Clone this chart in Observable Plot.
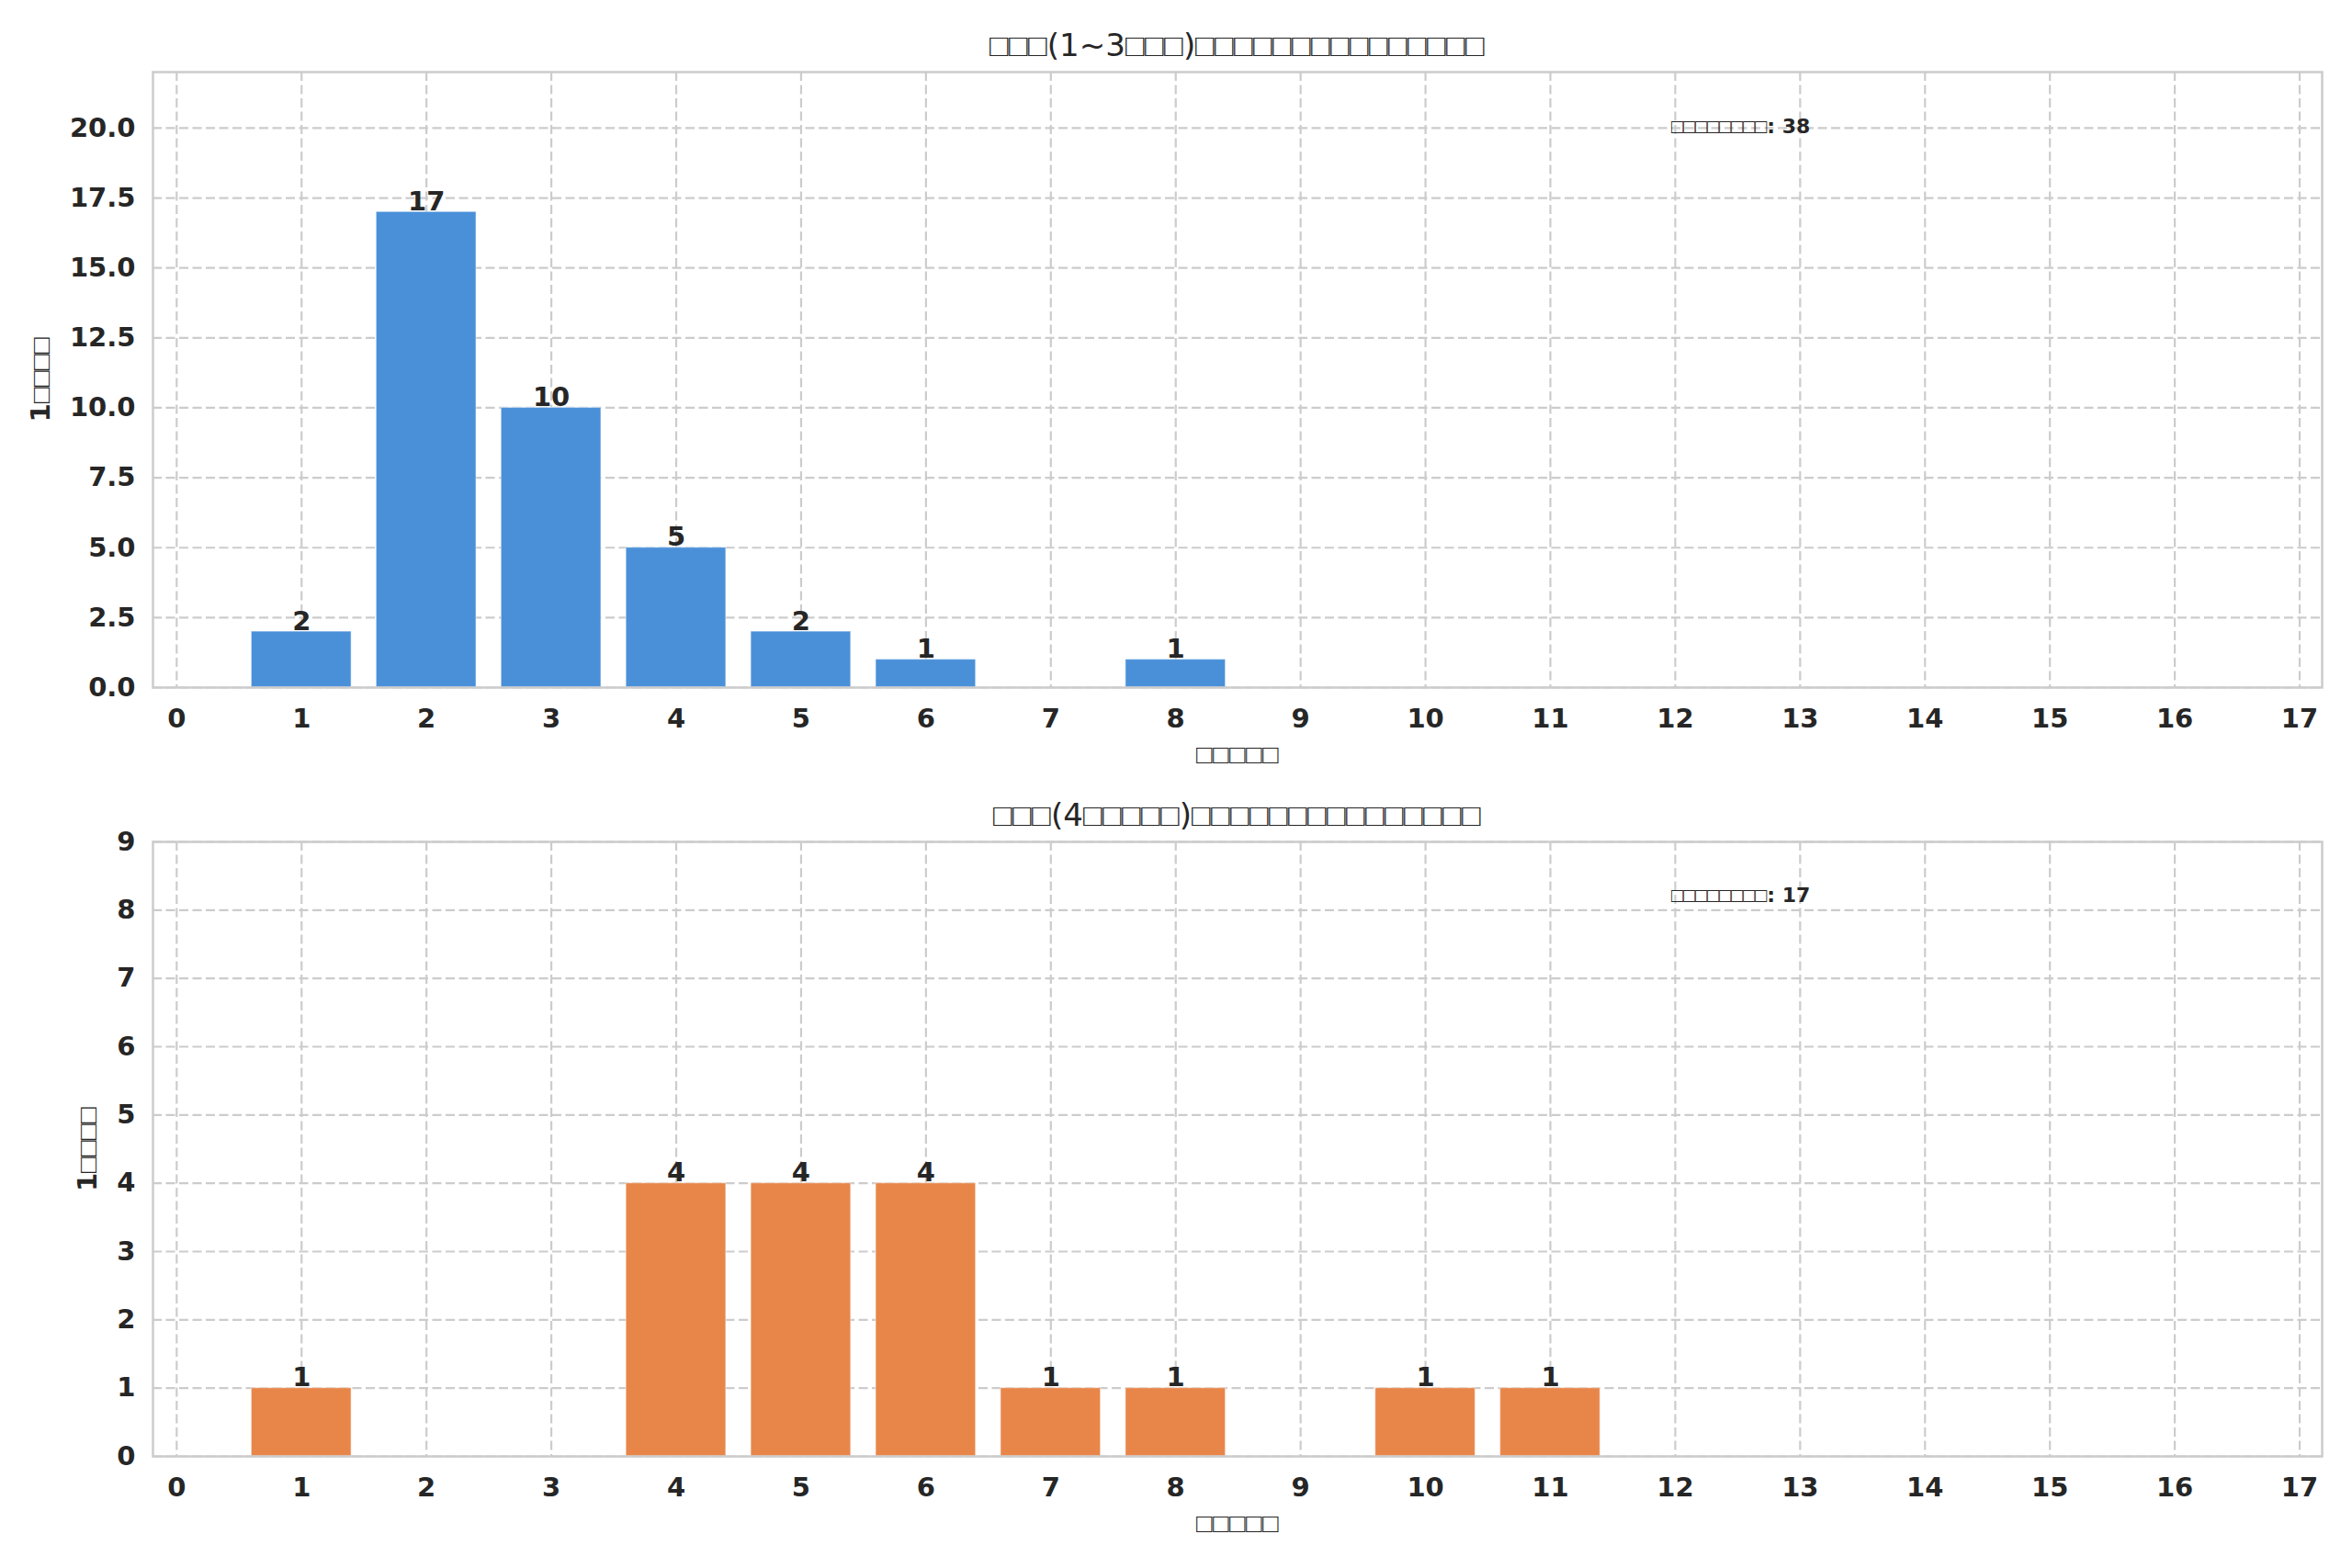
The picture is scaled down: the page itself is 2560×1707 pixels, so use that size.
<!DOCTYPE html>
<html>
<head>
<meta charset="utf-8">
<script src="https://cdn.jsdelivr.net/npm/d3@7"></script>
<script src="https://cdn.jsdelivr.net/npm/@observablehq/plot@0.6"></script>
<style>
  @font-face { font-family: "TofuBox"; src: local("Liberation Sans"), local("LiberationSans"); unicode-range: U+25A1; font-weight: 400; }
  @font-face { font-family: "TofuBox"; src: local("Liberation Sans Bold"), local("LiberationSans-Bold"); unicode-range: U+25A1; font-weight: 700; }
  html, body { margin: 0; padding: 0; background: #ffffff; }
  #page { position: relative; width: 2560px; height: 1707px; background: #ffffff; overflow: hidden; }
  .title { position: absolute; font-family: "TofuBox", "DejaVu Sans", sans-serif; font-size: 34px; line-height: 40px;
           color: #262626; text-align: center; white-space: nowrap; }
  .panel { position: absolute; left: 0; }
</style>
</head>
<body>
<div id="page"></div>
<script>
// ---- data ----
const topValues = [1, 2, 3, 4, 5, 6, 8];
const topCounts = [2, 17, 10, 5, 2, 1, 1];
const bottomValues = [1, 4, 5, 6, 7, 8, 10, 11];
const bottomCounts = [1, 4, 4, 4, 1, 1, 1, 1];
const xTicks = [0, 1, 2, 3, 4, 5, 6, 7, 8, 9, 10, 11, 12, 13, 14, 15, 16, 17];
const topYTicks = [0, 2.5, 5, 7.5, 10, 12.5, 15, 17.5, 20];
const bottomYTicks = [0, 1, 2, 3, 4, 5, 6, 7, 8, 9];
const topTitle = "□□□(1~3□□□)□□□□□□□□□□□□□□□";
const bottomTitle = "□□□(4□□□□□)□□□□□□□□□□□□□□□";
const xLabel = "□□□□□";
const yLabel = "1□□□□";
const totalLabel = "□□□□□□□□";

// ---- layout ----
const W = 2560, mL = 166, mR = 33, mB = 100;
const plotW = W - mL - mR;
const FONT = '"TofuBox", "DejaVu Sans", sans-serif';

function panel({values, counts, color, yMax, yTicks, yFormat, yLabelOffset, height, mT, top, title, titleTop}) {
  const data = values.map((v, i) => ({value: v, count: counts[i]}));
  const plotH = height - mT - mB;
  const grid = {stroke: "#cccccc", strokeOpacity: 1, strokeWidth: 2.2, strokeDasharray: "10,4.5"};
  const chart = Plot.plot({
    width: W,
    height,
    marginLeft: mL, marginRight: mR, marginTop: mT, marginBottom: mB,
    style: {fontFamily: FONT, fontSize: "29px", color: "#262626", background: "transparent"},
    x: {domain: [-0.19, 17.18]},
    y: {domain: [0, yMax]},
    marks: [
      Plot.gridX(xTicks, grid),
      Plot.gridY(yTicks, grid),
      Plot.rectY(data, {
        x1: d => d.value - 0.4, x2: d => d.value + 0.4, y1: 0, y2: "count",
        fill: color, stroke: "#ffffff", strokeOpacity: 0.45, strokeWidth: 1.2
      }),
      Plot.text(data, {
        x: "value", y: "count", text: d => String(d.count),
        lineAnchor: "bottom", dy: -2, fontSize: 29, fontWeight: "bold", fill: "#262626"
      }),
      Plot.text([`${totalLabel}: ${d3.sum(counts)}`], {
        frameAnchor: "top-left", dx: 0.7 * plotW, dy: 0.088 * plotH,
        textAnchor: "start", lineAnchor: "middle",
        fontSize: 22, fontWeight: "bold", fill: "#262626"
      }),
      Plot.axisX(xTicks, {
        tickSize: 0, tickPadding: 23, fontWeight: "bold", fontSize: 29, tickFormat: d3.format("d"),
        label: xLabel, labelAnchor: "center", labelArrow: "none", labelOffset: 82
      }),
      Plot.axisY(yTicks, {
        tickSize: 0, tickPadding: 19, fontWeight: "bold", fontSize: 29, tickFormat: yFormat,
        label: yLabel, labelAnchor: "center", labelArrow: "none", labelOffset: yLabelOffset
      }),
      Plot.frame({stroke: "#cccccc", strokeWidth: 2.5})
    ]
  });
  chart.classList.add("panel");
  chart.style.top = top + "px";
  const page = document.getElementById("page");
  page.appendChild(chart);
  const t = document.createElement("div");
  t.className = "title";
  t.textContent = title;
  t.style.left = mL + "px";
  t.style.width = plotW + "px";
  t.style.top = titleTop + "px";
  page.appendChild(t);
}

panel({
  values: topValues, counts: topCounts, color: "#4a90d9",
  yMax: 22, yTicks: topYTicks, yFormat: d3.format(".1f"), yLabelOffset: 133,
  height: 796, mT: 26, top: 52, title: topTitle, titleTop: 29
});
panel({
  values: bottomValues, counts: bottomCounts, color: "#e8864a",
  yMax: 9, yTicks: bottomYTicks, yFormat: d3.format("d"), yLabelOffset: 82,
  height: 795, mT: 26, top: 890, title: bottomTitle, titleTop: 867
});
</script>
</body>
</html>
